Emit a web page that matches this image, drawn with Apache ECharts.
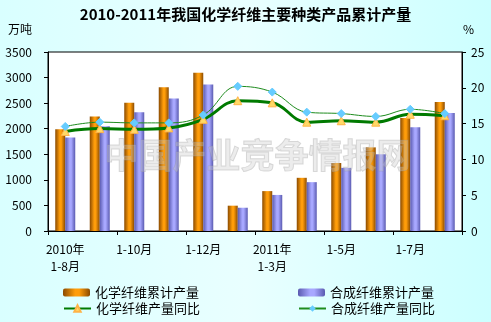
<!DOCTYPE html>
<html><head><meta charset="utf-8">
<script src="https://cdn.jsdelivr.net/npm/echarts@6/dist/echarts.min.js"></script>
<style>html,body{margin:0;padding:0;}#c{width:491px;height:322px;}</style>
</head><body><div id="c"></div>
<script>
var categories = ['2010年\n1-8月','1-9月','1-10月','1-11月','1-12月','2011年\n1-2月','2011年\n1-3月','1-4月','1-5月','1-6月','1-7月','1-8月'];
var chemOutput = [1990, 2240, 2510, 2810, 3095, 495, 780, 1040, 1330, 1635, 2210, 2520];
var synOutput = [1830, 2050, 2320, 2590, 2865, 455, 705, 955, 1235, 1500, 2030, 2305];
var chemYoY = [13.9, 14.3, 14.2, 14.4, 15.6, 18.2, 17.9, 15.2, 15.4, 15.2, 16.3, 16.1];
var synYoY = [14.6, 15.2, 15.1, 15.1, 16.2, 20.2, 19.4, 16.6, 16.4, 16.0, 17.0, 16.4];
var leftTicks = [0, 3500, 500];
var rightTicks = [0, 25, 5];

var font = '"Noto Sans CJK SC", "DejaVu Sans", sans-serif';
var chart = echarts.init(document.getElementById('c'));
function barGrad(edge, mid) {
  return new echarts.graphic.LinearGradient(0, 0, 1, 0, [
    {offset: 0, color: edge}, {offset: 0.45, color: mid}, {offset: 0.6, color: mid}, {offset: 1, color: edge}
  ]);
}
function leg(left, top, name) {
  return {left: left, top: top, orient: 'horizontal', itemWidth: 27, itemHeight: 8, padding: 0,
          textStyle: {fontSize: 13, color: '#000', fontFamily: font}, data: [name]};
}
chart.setOption({
  backgroundColor: new echarts.graphic.LinearGradient(0, 0, 1, 0, [
    {offset: 0, color: '#d9ffff'}, {offset: 0.5, color: '#e9ffff'}, {offset: 1, color: '#ccffff'}
  ]),
  textStyle: {fontFamily: font},
  title: {
    text: '2010-2011年我国化学纤维主要种类产品累计产量',
    left: 'center', top: 2,
    textStyle: {fontSize: 15, fontWeight: 'bold', color: '#000', fontFamily: font}
  },
  graphic: [
    {type: 'text', left: 8, top: 23, style: {text: '万吨', fontSize: 12, fill: '#000', fontFamily: font}},
    {type: 'text', left: 463, top: 23, style: {text: '%', fontSize: 12, fill: '#000', fontFamily: font}},
    {type: 'text', left: 104, top: 138, z: 100, silent: true,
     style: {text: '中国产业竞争情报网', fontSize: 34, fontWeight: 'bold', fill: 'rgba(200,200,200,0.35)',
             stroke: 'rgba(150,150,150,0.35)', lineWidth: 1, fontFamily: font}}
  ],
  legend: [
    leg(63, 286, '化学纤维累计产量'),
    leg(63, 302, '化学纤维产量同比'),
    leg(298, 286, '合成纤维累计产量'),
    leg(298, 302, '合成纤维产量同比')
  ],
  grid: {left: 48, right: 29, top: 52, bottom: 91, show: true, backgroundColor: '#fff', borderColor: '#000', borderWidth: 1},
  xAxis: {
    type: 'category', data: categories,
    axisLine: {lineStyle: {color: '#000'}},
    axisTick: {show: true, length: 4, lineStyle: {color: '#000'}},
    axisLabel: {interval: 1, fontSize: 12, color: '#000', margin: 10, lineHeight: 17, fontFamily: font}
  },
  yAxis: [
    {type: 'value', min: leftTicks[0], max: leftTicks[1], interval: leftTicks[2],
     axisLine: {show: true, lineStyle: {color: '#000'}},
     axisTick: {show: true, length: 4, lineStyle: {color: '#000'}},
     splitLine: {show: false},
     axisLabel: {fontSize: 12, color: '#000', margin: 16, fontFamily: font, formatter: function (v) { return String(v); }}},
    {type: 'value', min: rightTicks[0], max: rightTicks[1], interval: rightTicks[2],
     axisLine: {show: true, lineStyle: {color: '#000'}},
     axisTick: {show: true, length: 4, lineStyle: {color: '#000'}},
     splitLine: {show: false},
     axisLabel: {fontSize: 12, color: '#000', margin: 9, fontFamily: font, formatter: function (v) { return String(v); }}}
  ],
  series: [
    {name: '化学纤维累计产量', type: 'bar', data: chemOutput, barWidth: 10, barGap: '0%',
     itemStyle: {color: barGrad('#8a4a00', '#ff9d0a')}},
    {name: '合成纤维累计产量', type: 'bar', data: synOutput, barWidth: 10, barGap: '0%',
     itemStyle: {color: barGrad('#5a5ab0', '#a8a8ff')}},
    {name: '化学纤维产量同比', type: 'line', yAxisIndex: 1, data: chemYoY, smooth: 0.4,
     symbol: 'triangle', symbolSize: 8,
     lineStyle: {color: '#007a00', width: 3},
     itemStyle: {color: '#ffd966', borderColor: '#ffb347', borderWidth: 1}},
    {name: '合成纤维产量同比', type: 'line', yAxisIndex: 1, data: synYoY, smooth: 0.4,
     symbol: 'diamond', symbolSize: 8,
     lineStyle: {color: '#1e8c1e', width: 1},
     itemStyle: {color: '#66ccff', borderColor: '#66ccff'}}
  ]
});
</script></body></html>
